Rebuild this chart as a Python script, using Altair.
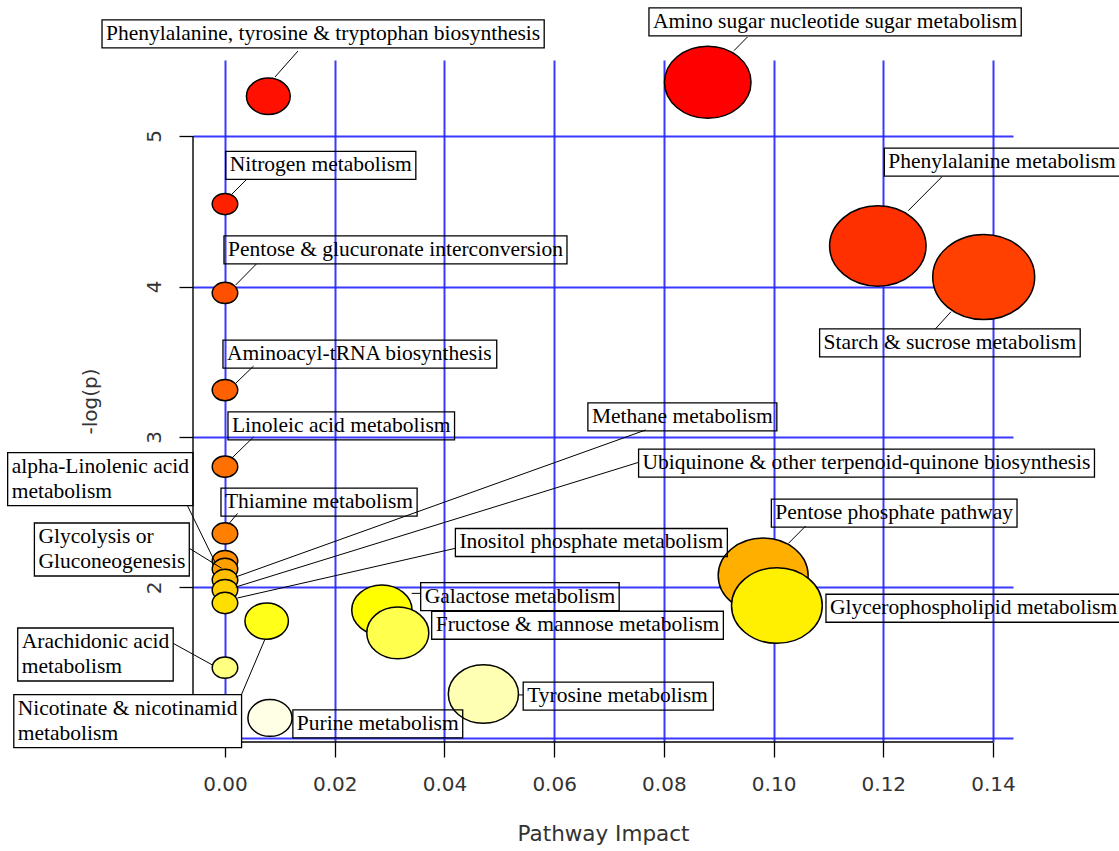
import colorsys
import math

import altair as alt
import pandas as pd

# ---------------------------------------------------------------------------
# Pathway analysis results: pathway impact (x) and -log(p) (y)
# ---------------------------------------------------------------------------
pathway = [
    "Amino sugar nucleotide sugar metabolism",
    "Phenylalanine, tyrosine & tryptophan biosynthesis",
    "Nitrogen metabolism",
    "Phenylalanine metabolism",
    "Starch & sucrose metabolism",
    "Pentose & glucuronate interconversion",
    "Aminoacyl-tRNA biosynthesis",
    "Linoleic acid metabolism",
    "Thiamine metabolism",
    "alpha-Linolenic acid metabolism",
    "Glycolysis or Gluconeogenesis",
    "Pentose phosphate pathway",
    "Methane metabolism",
    "Ubiquinone & other terpenoid-quinone biosynthesis",
    "Inositol phosphate metabolism",
    "Glycerophospholipid metabolism",
    "Galactose metabolism",
    "Nicotinate & nicotinamid metabolism",
    "Fructose & mannose metabolism",
    "Arachidonic acid metabolism",
    "Tyrosine metabolism",
    "Purine metabolism",
]
impact = [0.0880, 0.0079, 0.0, 0.1190, 0.1383, 0.0, 0.0, 0.0, 0.0, 0.0, 0.0,
          0.0981, 0.0, 0.0, 0.0, 0.1006, 0.0286, 0.0076, 0.0315, 0.0, 0.0471,
          0.0082]
neg_log_p = [5.357, 5.264, 4.548, 4.269, 4.063, 3.957, 3.312, 2.803, 2.359,
             2.176, 2.123, 2.080, 2.050, 1.983, 1.897, 1.880, 1.850, 1.777,
             1.698, 1.467, 1.292, 1.133]

# labels broken over two lines
two_line = {
    "alpha-Linolenic acid metabolism": ["alpha-Linolenic acid", "metabolism"],
    "Glycolysis or Gluconeogenesis": ["Glycolysis or", "Gluconeogenesis"],
    "Nicotinate & nicotinamid metabolism": ["Nicotinate & nicotinamid", "metabolism"],
    "Arachidonic acid metabolism": ["Arachidonic acid", "metabolism"],
}

x_ticks = [0.00, 0.02, 0.04, 0.06, 0.08, 0.10, 0.12, 0.14]
y_ticks = [1, 2, 3, 4, 5]

# ---------------------------------------------------------------------------
# Label placement (offsets in pixels from the bubble centre):
# box side anchored, that edge's dx, box centre dy, leader start, leader tip,
# opaque box
# ---------------------------------------------------------------------------
label_layout = [
    ("left", -58.8, -60.3, (39.7, -45.3), (26.2, -31.6), False),
    ("left", -166.3, -62.3, (29.7, -45.3), (6.7, -19.3), False),
    ("left", 0.7, -38.6, (22.0, -25.0), (7.0, -10.0), False),
    ("left", 6.5, -83.8, (64.2, -69.3), (30.4, -35.3), False),
    ("left", -164.1, 65.9, (-48.7, 52.3), (-32.7, 34.7), False),
    ("left", -1.0, -43.0, (31.4, -29.0), (10.7, -8.0), False),
    ("left", -2.0, -36.0, (28.6, -24.0), (10.7, -6.7), False),
    ("left", 3.0, -40.7, (28.6, -29.7), (7.0, -8.7), False),
    ("left", -4.0, -31.3, (12.5, -20.0), (3.6, -9.3), False),
    ("right", -32.0, -81.8, (-37.5, -55.3), (-10.0, 1.0), False),
    ("right", -35.7, -19.5, (-35.7, -20.7), (-3.3, -0.7), False),
    ("left", 8.2, -62.3, (42.5, -49.5), (25.4, -32.2), False),
    ("left", 362.9, -163.0, (420.7, -150.0), (10.7, -3.0), False),
    ("left", 413.6, -127.0, (413.6, -127.7), (10.7, -3.0), False),
    ("left", 230.4, -60.5, (230.4, -54.7), (12.5, -5.0), False),
    ("left", 49.1, 2.7, None, None, False),
    ("left", 38.8, -13.5, (38.8, -16.7), (29.8, -16.7), False),
    ("right", -25.1, 100.0, (-25.1, 73.3), (-1.8, 18.3), True),
    ("left", 33.9, -7.7, None, None, False),
    ("right", -51.8, -13.2, (-51.8, -24.4), (-12.5, -2.7), False),
    ("left", 39.8, 2.1, (39.8, 0.9), (35.2, 0.9), False),
    ("left", 22.9, 5.8, None, None, False),
]

# ---------------------------------------------------------------------------
# Geometry and styling
# ---------------------------------------------------------------------------
PLOT_W, PLOT_H = 820, 682
X_DOMAIN = [-0.00583, 0.14364]
Y_DOMAIN = [0.9734, 5.505]
KX = PLOT_W / (X_DOMAIN[1] - X_DOMAIN[0])   # pixels per impact unit
KY = PLOT_H / (Y_DOMAIN[1] - Y_DOMAIN[0])   # pixels per -log(p) unit

SERIF = "Liberation Serif"
SANS = "DejaVu Sans"
LABEL_SIZE = 21.5
BOX_PAD = 4
BOX_H = 28
LINE_H = 25
ASPECT = 1.2  # bubbles are drawn slightly wider than tall
ELLIPSE = "M -1 0 A 1 {r} 0 1 1 1 0 A 1 {r} 0 1 1 -1 0 Z".format(r=round(1 / ASPECT, 4))

# Times advance widths (1/1000 em) for sizing the label boxes
TIMES = {" ": 250, "&": 778, ",": 250, "-": 333,
         "a": 444, "b": 500, "c": 444, "d": 500, "e": 444, "f": 333,
         "g": 500, "h": 500, "i": 278, "j": 278, "k": 500, "l": 278,
         "m": 778, "n": 500, "o": 500, "p": 500, "q": 500, "r": 333,
         "s": 389, "t": 278, "u": 500, "v": 500, "w": 722, "x": 500,
         "y": 500, "z": 444, "A": 722, "F": 556, "G": 722, "I": 333,
         "L": 611, "M": 889, "N": 722, "P": 556, "R": 667, "S": 556,
         "T": 611, "U": 722}


def text_width(s):
    return sum(TIMES.get(c, 500) for c in s) * LABEL_SIZE / 1000.0


def heat_colors(n):
    """R's heat.colors(n): red through yellow, then fading towards white."""
    j = n // 4
    i = n - j
    cols = []
    for k in range(i):
        h = (1 / 6) * k / (i - 1) if i > 1 else 0.0
        cols.append(colorsys.hsv_to_rgb(h, 1.0, 1.0))
    if j > 0:
        hi, lo = 1 - 1 / (2 * j), 1 / (2 * j)
        for k in range(j):
            s = hi - (hi - lo) * k / (j - 1) if j > 1 else hi
            cols.append(colorsys.hsv_to_rgb(1 / 6, s, 1.0))
    return ["#%02X%02X%02X" % tuple(int(round(c * 255)) for c in rgb) for rgb in cols]


# bubble radius (in impact units) grows with sqrt(impact)
sq = [math.sqrt(v) for v in impact]
sq_min, sq_max = min(sq), max(sq)
max_r = (sq_max - sq_min) / 40
min_r = (sq_max - sq_min) / 160
radius = [min_r + (max_r - min_r) * (s - sq_min) / (sq_max - sq_min) for s in sq]

order = sorted(range(len(pathway)), key=lambda k: -neg_log_p[k])
rank = {k: r for r, k in enumerate(order)}

points = pd.DataFrame({
    "x": impact,
    "y": neg_log_p,
    "pathway": pathway,
    "rank": [rank[k] for k in range(len(pathway))],
    "area": [(2 * r * KX) ** 2 for r in radius],
}).sort_values("rank")

boxes, texts, leaders = [], [], []
for k, name in enumerate(pathway):
    cx, cy = impact[k], neg_log_p[k]
    side, edge_dx, mid_dy, attach, tip, opaque = label_layout[k]
    lines = two_line.get(name, [name])
    w = max(text_width(s) for s in lines) + 2 * BOX_PAD
    h = BOX_H + LINE_H * (len(lines) - 1)
    left_px = edge_dx if side == "left" else edge_dx - w
    x_left = cx + left_px / KX
    x_right = cx + (left_px + w) / KX
    y_mid = cy - mid_dy / KY
    boxes.append({"x": x_left, "x2": x_right,
                  "y": y_mid + (h / 2) / KY, "y2": y_mid - (h / 2) / KY,
                  "fo": 1.0 if opaque else 0.0})
    for li, s in enumerate(lines):
        off = (li - (len(lines) - 1) / 2) * LINE_H
        texts.append({"x": x_left + BOX_PAD / KX, "y": y_mid - off / KY, "text": s})
    if attach is not None:
        leaders.append({"x": cx + attach[0] / KX, "y": cy - attach[1] / KY,
                        "x2": cx + tip[0] / KX, "y2": cy - tip[1] / KY})

boxes = pd.DataFrame(boxes)
texts = pd.DataFrame(texts)
leaders = pd.DataFrame(leaders)
x_axis_line = pd.DataFrame({"x": [min(x_ticks)], "x2": [max(x_ticks)], "y": [Y_DOMAIN[0]]})
y_axis_line = pd.DataFrame({"x": [X_DOMAIN[0]], "y": [min(y_ticks)], "y2": [max(y_ticks)]})

# ---------------------------------------------------------------------------
# Shared scales and axes
# ---------------------------------------------------------------------------
GRID_BLUE = "#2323FF"
x_scale = alt.Scale(domain=X_DOMAIN, nice=False, zero=False)
y_scale = alt.Scale(domain=Y_DOMAIN, nice=False, zero=False)
x_axis = alt.Axis(values=x_ticks, format=".2f", grid=True, gridColor=GRID_BLUE,
                  gridWidth=2, gridOpacity=0.9, domain=False, tickColor="black",
                  tickSize=15, tickWidth=1.3, labelFont=SANS, labelFontSize=20,
                  labelColor="#333333", labelPadding=17, labelFlush=False,
                  labelOverlap=False, title="Pathway Impact", titleFont=SANS,
                  titleFontSize=21.5, titleFontWeight="normal",
                  titleColor="#333333", titlePadding=29)
y_axis = alt.Axis(values=y_ticks, format="d", grid=True, gridColor=GRID_BLUE,
                  gridWidth=2, gridOpacity=0.9, domain=False, tickColor="black",
                  tickSize=14, tickWidth=1.3, labelFont=SANS, labelFontSize=20,
                  labelColor="#333333", labelAngle=270, labelAlign="center",
                  labelBaseline="bottom", labelPadding=15, labelFlush=False,
                  labelOverlap=False, title="-log(p)", titleFont=SANS,
                  titleFontSize=20, titleFontWeight="normal",
                  titleColor="#333333", titlePadding=44)

X = alt.X("x:Q", scale=x_scale, axis=x_axis)
Y = alt.Y("y:Q", scale=y_scale, axis=y_axis)

x_line = alt.Chart(x_axis_line).mark_rule(color="black", strokeWidth=1.4).encode(
    x=X, x2="x2:Q", y=Y)
y_line = alt.Chart(y_axis_line).mark_rule(color="black", strokeWidth=1.4).encode(
    x=X, y=Y, y2="y2:Q")

bubbles = alt.Chart(points).mark_point(
    shape=ELLIPSE, filled=True, stroke="black", strokeWidth=1.5, opacity=1,
    strokeOpacity=1,
).encode(
    x=X, y=Y,
    size=alt.Size("area:Q", scale=None, legend=None),
    fill=alt.Fill("pathway:N", legend=None,
                  scale=alt.Scale(domain=[pathway[k] for k in order],
                                  range=heat_colors(len(pathway)))),
    order=alt.Order("rank:Q"),
)

leader_lines = alt.Chart(leaders).mark_rule(color="black", strokeWidth=1).encode(
    x=X, y=Y, x2="x2:Q", y2="y2:Q")

label_boxes = alt.Chart(boxes).mark_rect(
    stroke="black", strokeWidth=1.3, fill="white"
).encode(
    x=X, x2="x2:Q", y=Y, y2="y2:Q",
    fillOpacity=alt.FillOpacity("fo:Q", scale=None, legend=None),
)

label_text = alt.Chart(texts).mark_text(
    align="left", baseline="middle", font=SERIF, fontSize=LABEL_SIZE, color="black"
).encode(x=X, y=Y, text="text:N")

chart = alt.layer(
    x_line, y_line, bubbles, leader_lines, label_boxes, label_text
).properties(
    width=PLOT_W, height=PLOT_H,
    padding={"left": 193, "top": 60, "right": 106, "bottom": 109},
    autosize=alt.AutoSizeParams(type="none"),
    background="white",
).configure_view(strokeWidth=0)

chart.save("out.html", embed_options={"renderer": "svg", "actions": False})
